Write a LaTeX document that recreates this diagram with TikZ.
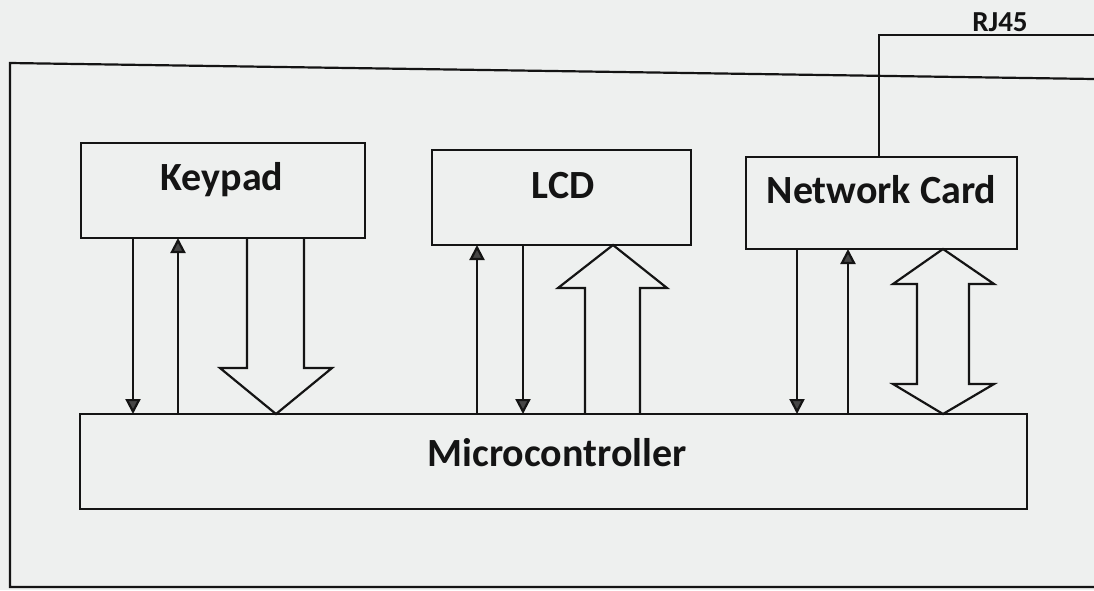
\documentclass[tikz,border=0pt]{standalone}
\usepackage{fontspec}
\setmainfont{Carlito}
\usetikzlibrary{arrows.meta}
\definecolor{paper}{RGB}{238,240,239}
\definecolor{ink}{RGB}{20,20,20}
\definecolor{headfill}{RGB}{70,70,70}

\begin{document}
\begin{tikzpicture}[x=1pt, y=-1pt,
  block/.style={draw=ink, line width=2.2pt, inner sep=0pt, outer sep=0pt, minimum width=#1},
  blocktext/.style={font=\bfseries\fontsize{40}{42}\selectfont, text=ink, anchor=base, inner sep=0pt},
  smalltext/.style={font=\bfseries\fontsize{29}{31}\selectfont, text=ink, anchor=base, inner sep=0pt},
  sig/.style={draw=ink, line width=2.2pt, -{Triangle[width=15pt, length=15pt, fill=headfill]}},
  bus/.style={draw=ink, line width=2.2pt, line join=miter},
  wire/.style={draw=ink, line width=2.2pt}]

% paper and page size
\fill[paper] (0,0) rectangle (1094,590);
\useasboundingbox (0,0) rectangle (1094,590);

% outer enclosure
\draw[wire] (1094,79) -- (10,63) -- (10,587) -- (1094,587);

% blocks
\node[block=284pt, minimum height=95pt] (kp)  at (223,190.5) {};
\node[block=259pt, minimum height=95pt] (lcd) at (561.5,197.5) {};
\node[block=271pt, minimum height=92pt] (net) at (881.5,203) {};
\node[block=947pt, minimum height=95pt] (mc)  at (553.5,461.5) {};

% block labels
\node[blocktext] (kpt)  at (222,190) {Keypad};
\node[blocktext] (lcdt) at (563,198) {LCD};
\node[blocktext] (nett) at (881.5,203) {Network Card};
\node[blocktext] (mct)  at (557,466) {Microcontroller};

% RJ45 cable
\coordinate (rj) at (1094,35);
\draw[wire] (net.north -| 879,0) |- (rj);
\node[smalltext] (rjt) at (1000,31) {RJ45};

% keypad <-> microcontroller
\draw[sig] (kp.south -| 133,0) -- (mc.north -| 133,0);
\draw[sig] (mc.north -| 178,0) -- (kp.south -| 178,0);
\draw[bus] (kp.south -| 247,0) -- (247,368) -- (220,368) -- (mc.north -| 276,0)
  -- (332,368) -- (304,368) -- (kp.south -| 304,0);

% LCD <-> microcontroller
\draw[sig] (mc.north -| 477,0) -- (lcd.south -| 477,0);
\draw[sig] (lcd.south -| 523,0) -- (mc.north -| 523,0);
\draw[bus] (mc.north -| 585,0) -- (585,288) -- (558,288) -- (lcd.south -| 613,0)
  -- (667,288) -- (640,288) -- (mc.north -| 640,0);

% network card <-> microcontroller
\draw[bus] (net.south -| 943,0) -- (994,284) -- (969,284) -- (969,384) -- (994,384)
  -- (mc.north -| 943,0) -- (893,384) -- (917,384) -- (917,284) -- (893,284) -- cycle;
\draw[sig] (net.south -| 797,0) -- (mc.north -| 797,0);
\draw[sig] (mc.north -| 848,0) -- (net.south -| 848,0);

\end{tikzpicture}
\end{document}
